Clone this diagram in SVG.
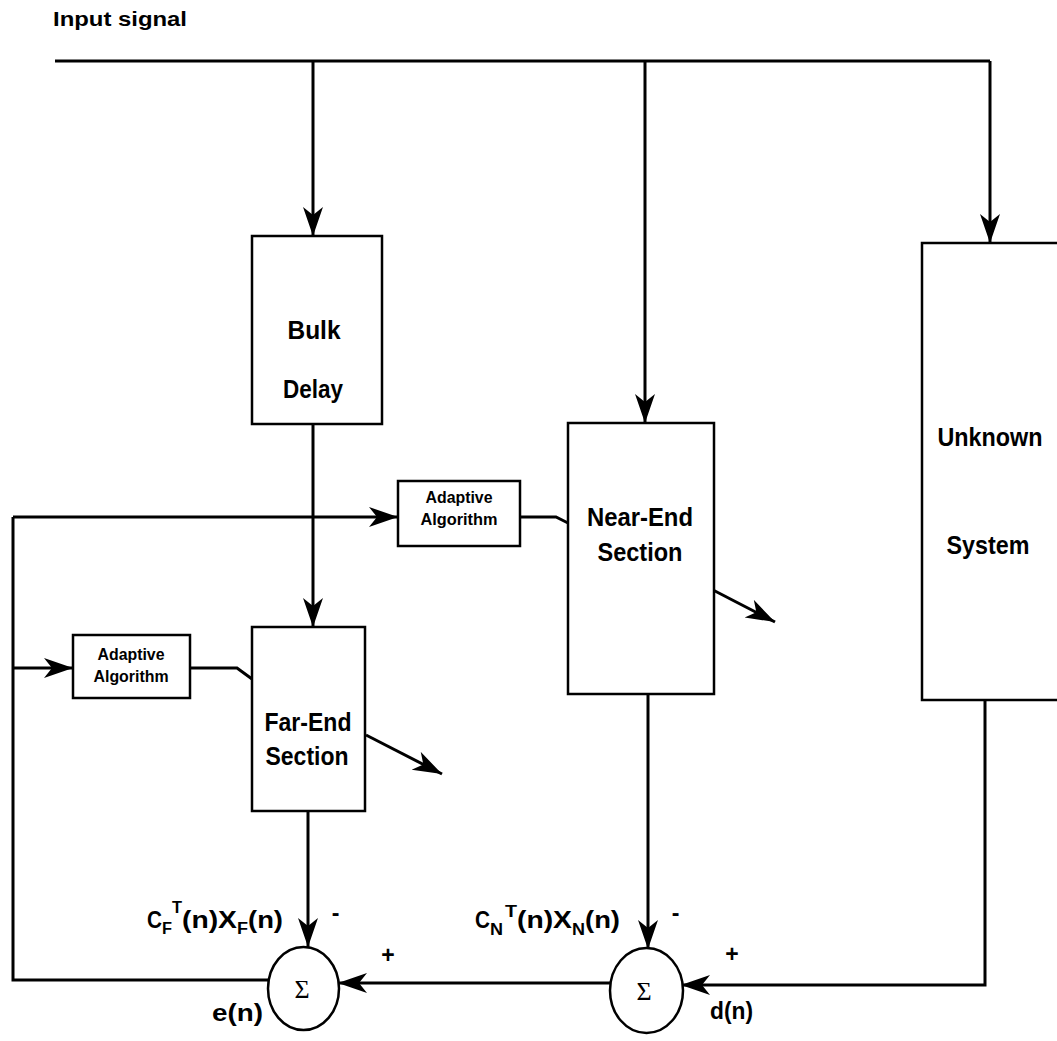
<svg xmlns="http://www.w3.org/2000/svg" width="1057" height="1041" viewBox="0 0 1057 1041">
<defs>
<style>
.box{fill:#fff;stroke:#000;stroke-width:2.5}
.ln{fill:none;stroke:#000;stroke-width:3}
.arr{marker-end:url(#ah)}
.lbl{font-family:"Liberation Sans",Arial,sans-serif;font-weight:bold;font-size:25px;text-anchor:middle;fill:#000}
.aa{font-family:"Liberation Sans",Arial,sans-serif;font-weight:bold;font-size:16px;text-anchor:middle;fill:#000}
.eq{font-family:"Liberation Sans",Arial,sans-serif;font-weight:bold;font-size:23px;fill:#000}
.sub{font-family:"Liberation Sans",Arial,sans-serif;font-weight:bold;font-size:16px;fill:#000}
.sig{font-family:"Liberation Serif","Times New Roman",serif;font-size:26px;text-anchor:middle;fill:#000}
</style>
<marker id="ah" markerUnits="userSpaceOnUse" markerWidth="32" markerHeight="22" refX="29" refY="10" orient="auto">
<path d="M0,0 L29,10 L0,20 L8,10 Z" fill="#000"/>
</marker>
</defs>
<rect width="1057" height="1041" fill="#fff"/>

<text x="53" y="26" font-family="Liberation Sans, Arial, sans-serif" font-weight="bold" font-size="20" textLength="134" lengthAdjust="spacingAndGlyphs">Input signal</text>

<g id="connectors">
<path class="ln" d="M55,61 L990,61"/>
<path class="ln arr" d="M313,61 L313,236"/>
<path class="ln arr" d="M645,61 L645,423"/>
<path class="ln arr" d="M990,61 L990,243"/>
<path class="ln arr" d="M313,424 L313,627"/>
<path class="ln arr" d="M366,735 L442,774"/>
<path class="ln arr" d="M713,590 L775,622"/>
<path class="ln arr" d="M308,811 L308,947"/>
<path class="ln arr" d="M648,694 L648,949"/>
<path class="ln arr" d="M985,700 L985,985 L681,985"/>
<path class="ln arr" d="M610,983 L338,983"/>
<path class="ln" d="M268,980 L13,980 L13,517"/>
<path class="ln arr" d="M13,517 L398,517"/>
<path class="ln arr" d="M13,668 L73,668"/>
<path class="ln" d="M520,517 L556,517 L568,523"/>
<path class="ln" d="M190,668 L237,668 L252,679"/>
</g>

<g id="bulk-delay">
<rect class="box" x="252" y="236" width="130" height="188"/>
<text class="lbl" x="314" y="339" textLength="53" lengthAdjust="spacingAndGlyphs">Bulk</text>
<text class="lbl" x="313" y="398" textLength="60" lengthAdjust="spacingAndGlyphs">Delay</text>
</g>

<g id="near-end">
<rect class="box" x="568" y="423" width="146" height="271"/>
<text class="lbl" x="640" y="526" textLength="106" lengthAdjust="spacingAndGlyphs">Near-End</text>
<text class="lbl" x="640" y="561" textLength="85" lengthAdjust="spacingAndGlyphs">Section</text>
</g>

<g id="far-end">
<rect class="box" x="252" y="627" width="113" height="184"/>
<text class="lbl" x="308" y="731" textLength="87" lengthAdjust="spacingAndGlyphs">Far-End</text>
<text class="lbl" x="307" y="765" textLength="83" lengthAdjust="spacingAndGlyphs">Section</text>
</g>

<g id="unknown-system">
<rect class="box" x="922" y="243" width="150" height="457"/>
<text class="lbl" x="990" y="446" textLength="105" lengthAdjust="spacingAndGlyphs">Unknown</text>
<text class="lbl" x="988" y="554" textLength="83" lengthAdjust="spacingAndGlyphs">System</text>
</g>

<g id="adaptive-upper">
<rect class="box" x="398" y="481" width="122" height="65"/>
<text class="aa" x="459" y="503" textLength="67" lengthAdjust="spacingAndGlyphs">Adaptive</text>
<text class="aa" x="459" y="525" textLength="77" lengthAdjust="spacingAndGlyphs">Algorithm</text>
</g>

<g id="adaptive-lower">
<rect class="box" x="73" y="635" width="117" height="63"/>
<text class="aa" x="131" y="660" textLength="67" lengthAdjust="spacingAndGlyphs">Adaptive</text>
<text class="aa" x="131" y="682" textLength="75" lengthAdjust="spacingAndGlyphs">Algorithm</text>
</g>

<g id="sum-1">
<ellipse cx="303.5" cy="988.5" rx="35.5" ry="41.5" fill="#fff" stroke="#000" stroke-width="2.5"/>
<text class="sig" x="302" y="998">Σ</text>
</g>

<g id="sum-2">
<ellipse cx="646.5" cy="990.5" rx="36.5" ry="42.5" fill="#fff" stroke="#000" stroke-width="2.5"/>
<text class="sig" x="644" y="1000">Σ</text>
</g>

<g id="labels">
<text class="eq" x="147" y="928" textLength="15" lengthAdjust="spacingAndGlyphs">C</text>
<text class="sub" x="162" y="934" textLength="10" lengthAdjust="spacingAndGlyphs">F</text>
<text class="sub" x="172" y="913" textLength="10" lengthAdjust="spacingAndGlyphs">T</text>
<text class="eq" x="182" y="928" textLength="55" lengthAdjust="spacingAndGlyphs">(n)X</text>
<text class="sub" x="237" y="934" textLength="11" lengthAdjust="spacingAndGlyphs">F</text>
<text class="eq" x="248" y="928" textLength="35" lengthAdjust="spacingAndGlyphs">(n)</text>

<text class="eq" x="475" y="928" textLength="15" lengthAdjust="spacingAndGlyphs">C</text>
<text class="sub" x="490" y="935" textLength="13" lengthAdjust="spacingAndGlyphs">N</text>
<text class="sub" x="505" y="917" textLength="12" lengthAdjust="spacingAndGlyphs">T</text>
<text class="eq" x="517" y="928" textLength="55" lengthAdjust="spacingAndGlyphs">(n)X</text>
<text class="sub" x="572" y="935" textLength="13" lengthAdjust="spacingAndGlyphs">N</text>
<text class="eq" x="585" y="928" textLength="35" lengthAdjust="spacingAndGlyphs">(n)</text>

<text class="eq" x="335.5" y="921" font-size="18" text-anchor="middle">-</text>
<text class="eq" x="388" y="963" font-size="18" text-anchor="middle">+</text>
<text class="eq" x="675.5" y="921" font-size="18" text-anchor="middle">-</text>
<text class="eq" x="732" y="962" font-size="18" text-anchor="middle">+</text>
<text class="eq" x="212" y="1021" textLength="51" lengthAdjust="spacingAndGlyphs">e(n)</text>
<text class="eq" x="710" y="1019" textLength="43" lengthAdjust="spacingAndGlyphs">d(n)</text>
</g>
</svg>
